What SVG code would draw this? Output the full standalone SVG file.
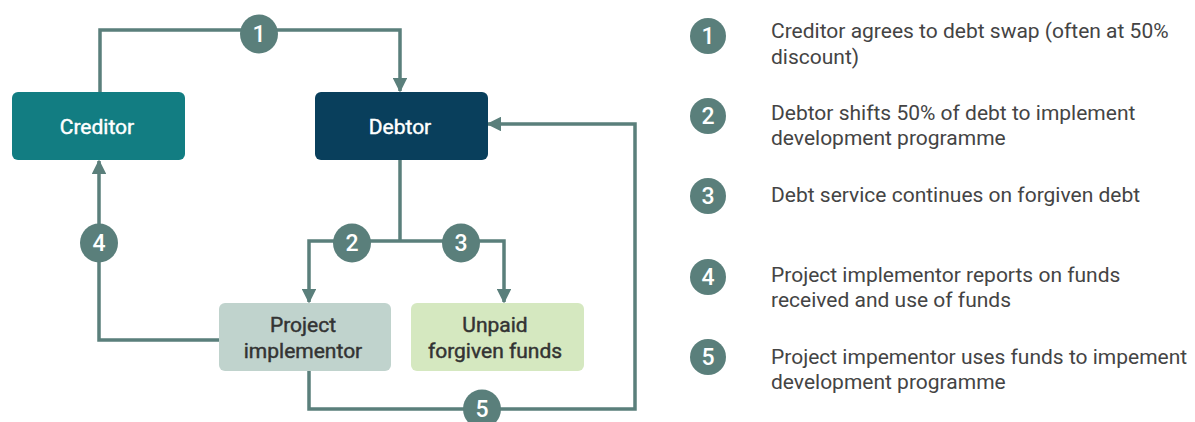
<svg xmlns="http://www.w3.org/2000/svg" width="1195" height="422" viewBox="0 0 1195 422">
<style>
.node text{font-family:Roboto,"Liberation Sans",sans-serif;font-size:21px;font-weight:400;text-anchor:middle;stroke-width:0.45}
.conn{fill:none;stroke:#5a7f7b;stroke-width:3.5}
.badge ellipse,.badge circle{fill:#5a7f7b}
.badge text{font-family:Roboto,"Liberation Sans",sans-serif;font-size:23px;font-weight:500;fill:#fff;text-anchor:middle}
.leg{font-family:Roboto,"Liberation Sans",sans-serif;font-size:21px;fill:#444}
</style>
<defs>
<marker id="ah" viewBox="0 0 10 10" refX="9" refY="5" markerWidth="4.2" markerHeight="4.2" orient="auto" markerUnits="strokeWidth">
<path d="M0,0 L10,5 L0,10 Z" fill="#5a7f7b"/>
</marker>
</defs>
<rect width="1195" height="422" fill="#fff"/>
<g id="connectors">
<path class="conn" d="M100,92 V30 H400 V91" marker-end="url(#ah)"/>
<path class="conn" d="M219,340 H99 V161" marker-end="url(#ah)"/>
<path class="conn" d="M400,160 V241"/>
<path class="conn" d="M400,241 H309 V302" marker-end="url(#ah)"/>
<path class="conn" d="M400,241 H504 V302" marker-end="url(#ah)"/>
<path class="conn" d="M309,371 V409 H635 V124 H488" marker-end="url(#ah)"/>
</g>
<g id="creditor" class="node"><rect x="12" y="92" width="173" height="68" rx="6" fill="#127d82"/><text x="97" y="134" fill="#fff" stroke="#fff">Creditor</text></g>
<g id="debtor" class="node"><rect x="315" y="92" width="173" height="68" rx="6" fill="#093f5c"/><text x="400" y="134" fill="#fff" stroke="#fff">Debtor</text></g>
<g id="implementor" class="node"><rect x="219" y="303" width="172" height="68" rx="6" fill="#c0d3cd"/><text x="303" y="332" fill="#333" stroke="#333">Project</text><text x="303" y="358" fill="#333" stroke="#333">implementor</text></g>
<g id="unpaid" class="node"><rect x="411" y="303" width="173" height="68" rx="6" fill="#d5e8c0"/><text x="495" y="332" fill="#333" stroke="#333">Unpaid</text><text x="495" y="358" fill="#333" stroke="#333">forgiven funds</text></g>
<g id="badges" class="badge">
<ellipse cx="259" cy="34" rx="19" ry="19.5"/><text x="259" y="42">1</text>
<ellipse cx="99" cy="243" rx="19" ry="19.5"/><text x="99" y="251">4</text>
<ellipse cx="352" cy="243" rx="19" ry="19.5"/><text x="352" y="251">2</text>
<ellipse cx="461" cy="243" rx="19" ry="19.5"/><text x="461" y="251">3</text>
<ellipse cx="482" cy="409" rx="19" ry="19.5"/><text x="482" y="417">5</text>
</g>
<g id="legend">
<g class="badge">
<circle cx="708" cy="36" r="18"/><text x="708" y="44">1</text>
<circle cx="708" cy="116" r="18"/><text x="708" y="124">2</text>
<circle cx="708" cy="196" r="18"/><text x="708" y="204">3</text>
<circle cx="708" cy="277" r="18"/><text x="708" y="285">4</text>
<circle cx="708" cy="357" r="18"/><text x="708" y="365">5</text>
</g>
<text class="leg" x="771" y="38">Creditor agrees to debt swap (often at 50%</text>
<text class="leg" x="771" y="64">discount)</text>
<text class="leg" x="771" y="120">Debtor shifts 50% of debt to implement</text>
<text class="leg" x="771" y="145">development programme</text>
<text class="leg" x="771" y="202">Debt service continues on forgiven debt</text>
<text class="leg" x="771" y="282">Project implementor reports on funds</text>
<text class="leg" x="771" y="307">received and use of funds</text>
<text class="leg" x="771" y="364">Project impementor uses funds to impement</text>
<text class="leg" x="771" y="389">development programme</text>
</g>
</svg>
